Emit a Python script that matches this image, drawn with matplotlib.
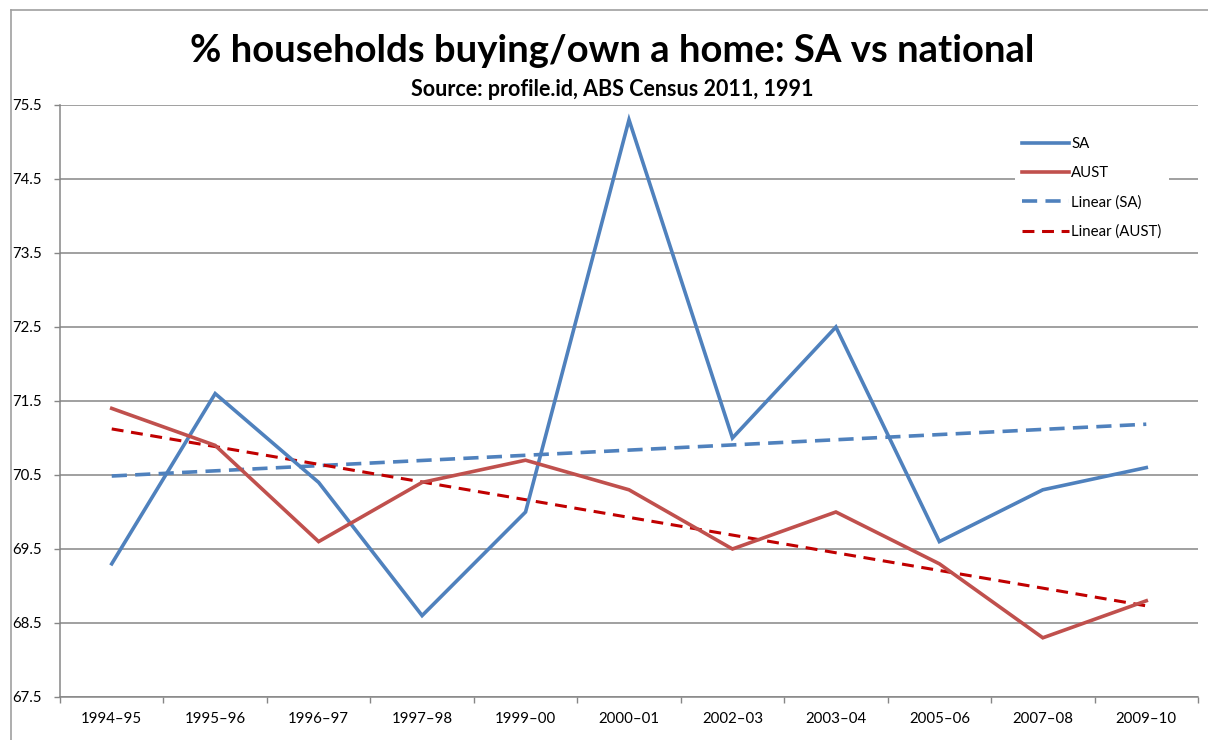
import numpy as np
import matplotlib.pyplot as plt
from matplotlib.lines import Line2D

plt.rcParams['font.family'] = ['Lato', 'DejaVu Sans']

# ---------------------------------------------
# DATA
# ---------------------------------------------
years = ["1994\u201395", "1995\u201396", "1996\u201397", "1997\u201398", "1999\u201300",
         "2000\u201301", "2002\u201303", "2003\u201304", "2005\u201306", "2007\u201308",
         "2009\u201310"]
sa = [69.3, 71.6, 70.4, 68.6, 70.0, 75.3, 71.0, 72.5, 69.6, 70.3, 70.6]
aust = [71.4, 70.9, 69.6, 70.4, 70.7, 70.3, 69.5, 70.0, 69.3, 68.3, 68.8]
y_ticks = [67.5, 68.5, 69.5, 70.5, 71.5, 72.5, 73.5, 74.5, 75.5]

W, H = 1208, 740
fig = plt.figure(figsize=(W / 100, H / 100), dpi=100)

# plot area in pixel coords
left, right, top, bottom = 60, 1198, 105, 697
ax = fig.add_axes([left / W, 1 - bottom / H, (right - left) / W, (bottom - top) / H])

x = np.arange(len(years))

# linear trends, as Excel does
sa_fit = np.polyval(np.polyfit(x, sa, 1), x)
aust_fit = np.polyval(np.polyfit(x, aust, 1), x)

blue = "#4F81BD"
red = "#C0504D"
dark_red = "#C00000"
grey = "#868686"

ax.plot(x, sa, color=blue, lw=2.6, label="SA", solid_joinstyle="miter", zorder=4)
ax.plot(x, aust, color=red, lw=2.6, label="AUST", solid_joinstyle="miter", zorder=4)
ax.plot(x, sa_fit, color=blue, lw=2.6, dashes=(4.2, 2.3), label="Linear (SA)", zorder=3)
ax.plot(x, aust_fit, color=dark_red, lw=2.2, dashes=(3.9, 2.5), label="Linear (AUST)", zorder=3)

ax.set_xlim(-0.5, len(years) - 0.5)
ax.set_ylim(67.5, 75.5)
ax.set_yticks(y_ticks)
ax.set_yticklabels([f"{v:.1f}" for v in y_ticks])
ax.set_xticks(x)
ax.set_xticklabels(years)
ax.set_xticks(np.arange(-0.5, len(years)), minor=True)

ax.tick_params(axis="x", which="major", length=0, pad=11, labelsize=10.8, colors="black")
ax.tick_params(axis="x", which="minor", length=4, width=1, color=grey, direction="out")
ax.tick_params(axis="y", length=4, width=1, color=grey, pad=9, labelsize=10.8)

ax.grid(axis="y", color=grey, lw=1.1)
ax.set_axisbelow(True)
for s in ["top", "right"]:
    ax.spines[s].set_visible(False)
for s in ["left", "bottom"]:
    ax.spines[s].set_color(grey)
    ax.spines[s].set_linewidth(1.1)

leg = ax.legend(loc="upper right", bbox_to_anchor=(0.9745, 0.958), frameon=True,
                fontsize=10.8, handlelength=3.1, handletextpad=0.15, labelspacing=1.0,
                borderpad=0.5, borderaxespad=0, fancybox=False)
leg.get_frame().set_facecolor("white")
leg.get_frame().set_edgecolor("none")
leg.get_frame().set_alpha(1)
leg.set_zorder(5)

# titles
fig.text(612 / W, 1 - 51 / H, "% households buying/own a home: SA vs national",
         ha="center", va="center", fontsize=27.5, fontweight="bold")
fig.text(612 / W, 1 - 89 / H, "Source: profile.id, ABS Census 2011, 1991",
         ha="center", va="center", fontsize=15.5, fontweight="bold")

# chart area border (left & top)
fig.add_artist(Line2D([11 / W, 11 / W], [0, 1 - 10 / H], color="#A0A0A0", lw=1.2))
fig.add_artist(Line2D([11 / W, 1], [1 - 10 / H, 1 - 10 / H], color="#A0A0A0", lw=1.2))

plt.savefig("out.png", dpi=100, facecolor="white")
